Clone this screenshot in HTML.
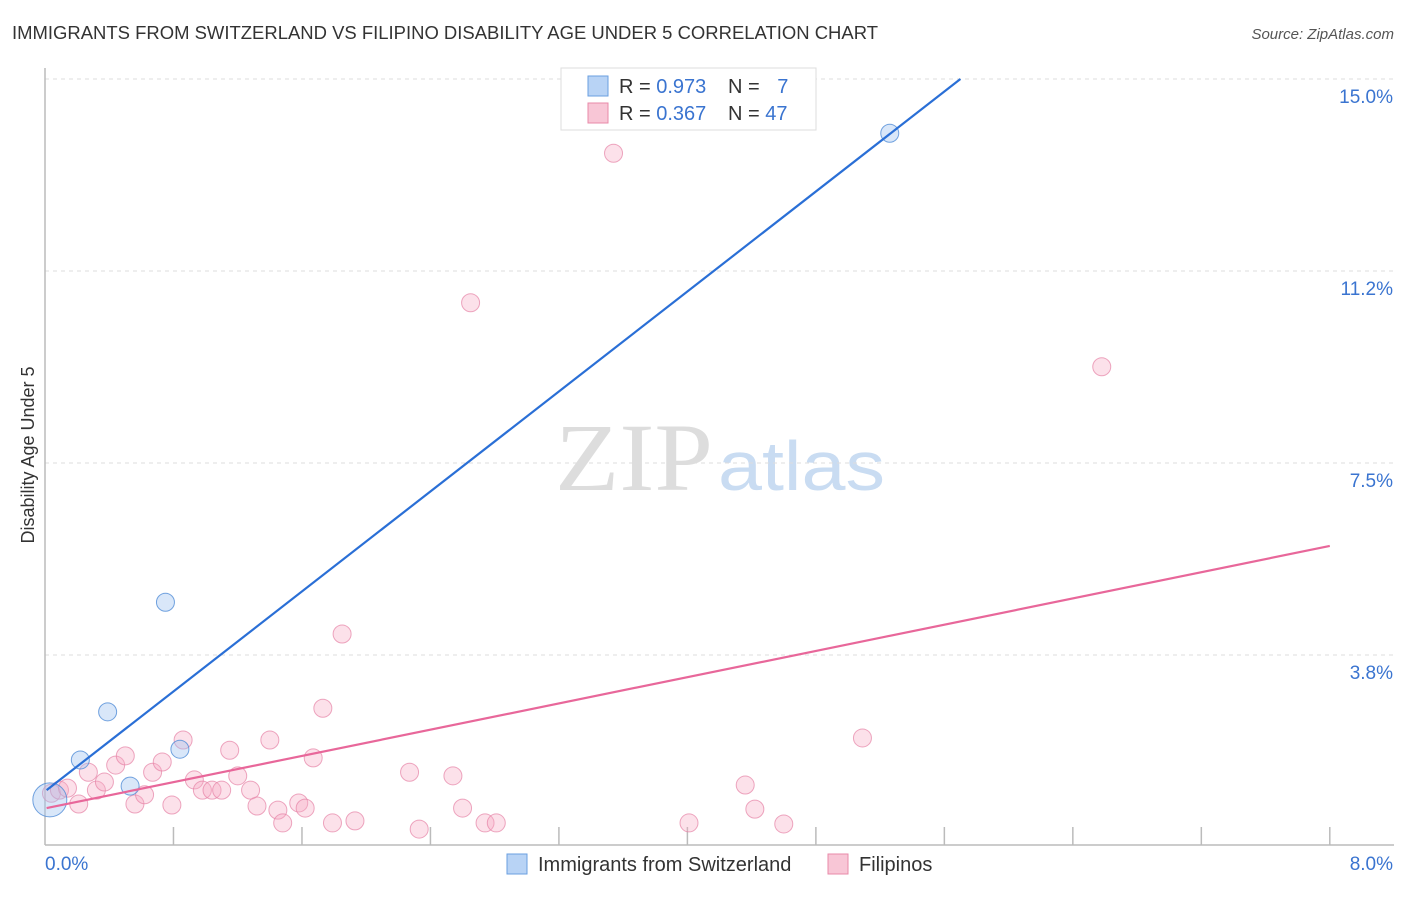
<!DOCTYPE html>
<html><head><meta charset="utf-8"><style>
body{margin:0;background:#fff;font-family:"Liberation Sans",sans-serif;}
svg text{font-family:"Liberation Sans",sans-serif;}
</style></head><body>
<svg width="1406" height="892" id="chart">
<text x="12" y="39" font-size="18" fill="#333" textLength="866" lengthAdjust="spacingAndGlyphs">IMMIGRANTS FROM SWITZERLAND VS FILIPINO DISABILITY AGE UNDER 5 CORRELATION CHART</text>
<text x="1394" y="39" font-size="15" fill="#555" font-style="italic" text-anchor="end">Source: ZipAtlas.com</text>
<text x="34" y="455" font-size="18" fill="#333" text-anchor="middle" transform="rotate(-90 34 455)">Disability Age Under 5</text>
<g>
<text x="555" y="490" font-size="96" fill="#ddd" textLength="158" lengthAdjust="spacingAndGlyphs" style="font-family:'Liberation Serif',serif">ZIP</text>
<text x="718" y="490" font-size="70" fill="#c9dcf2" textLength="167" lengthAdjust="spacingAndGlyphs">atlas</text>
</g>
<g id="grid"></g><g id="axes"></g><g id="marks"></g>
<g>
<rect x="561" y="68" width="255" height="62" fill="#fff" stroke="#ddd"/>
<rect x="588" y="76" width="20" height="20" fill="#b8d3f5" stroke="#6a9fe0"/>
<rect x="588" y="103" width="20" height="20" fill="#f8c6d6" stroke="#e88aa8"/>
<text x="619" y="93" font-size="20" fill="#333">R = <tspan fill="#3a74d0">0.973</tspan></text>
<text x="728" y="93" font-size="20" fill="#333">N = <tspan fill="#3a74d0" dx="12">7</tspan></text>
<text x="619" y="120" font-size="20" fill="#333">R = <tspan fill="#3a74d0">0.367</tspan></text>
<text x="728" y="120" font-size="20" fill="#333">N = <tspan fill="#3a74d0">47</tspan></text>
</g>
<g>
<rect x="507" y="854" width="20" height="20" fill="#b8d3f5" stroke="#6a9fe0"/>
<text x="538" y="871" font-size="20" fill="#333">Immigrants from Switzerland</text>
<rect x="828" y="854" width="20" height="20" fill="#f8c6d6" stroke="#e88aa8"/>
<text x="859" y="871" font-size="20" fill="#333">Filipinos</text>
</g>
</svg>
<script>
const yTicks=[3.75,7.5,11.25,15];
const yTickLabels=["3.8%","7.5%","11.2%","15.0%"];
const xTicks=[0,0.8,1.6,2.4,3.2,4.0,4.8,5.6,6.4,7.2,8.0];
const blueX=[0.22,0.39,0.53,0.75,0.84,5.26,0.03];
const blueY=[1.70,2.64,1.19,4.78,1.91,13.94,0.92];
const pinkX=[0.04,0.09,0.14,0.21,0.27,0.32,0.37,0.44,0.50,0.56,0.62,0.67,0.73,0.79,0.86,0.93,0.98,1.04,1.10,1.15,1.20,1.28,1.32,1.40,1.45,1.48,1.58,1.62,1.67,1.73,1.79,1.85,1.93,2.27,2.33,2.54,2.60,2.65,2.74,2.81,3.54,4.01,4.36,4.42,4.60,5.09,6.58];
const pinkY=[1.05,1.11,1.15,0.84,1.46,1.11,1.27,1.60,1.78,0.84,1.02,1.46,1.66,0.82,2.09,1.31,1.11,1.11,1.11,1.89,1.39,1.11,0.80,2.09,0.72,0.47,0.86,0.76,1.74,2.71,0.47,4.16,0.51,1.46,0.35,1.39,0.76,10.63,0.47,0.47,13.55,0.47,1.21,0.74,0.45,2.13,9.38];
const blueLine=[[0.01,1.11],[5.70,15.0]];
const pinkLine=[[0.01,0.76],[8.0,5.88]];
const sx=v=>45+v*160.6, sy=v=>847-v*51.2;
const NS="http://www.w3.org/2000/svg";
function mk(p,t,a){const e=document.createElementNS(NS,t);for(const k in a)e.setAttribute(k,a[k]);p.appendChild(e);return e;}
const grid=document.getElementById('grid'),axes=document.getElementById('axes'),marks=document.getElementById('marks');
yTicks.forEach((t,i)=>{
 const l=mk(grid,'line',{x1:45,x2:1394,y1:sy(t),y2:sy(t),stroke:'#ddd','stroke-dasharray':'4,4'});
 
 
 const tx=mk(axes,'text',{x:1393,y:sy(t)+24,'font-size':19,fill:'#3a74d0','text-anchor':'end'});
 tx.textContent=yTickLabels[i];
 
 
});
const ya=mk(axes,'line',{x1:45,x2:45,y1:68,y2:845,stroke:'#bbb','stroke-width':1.5});


const xa=mk(axes,'line',{x1:45,x2:1394,y1:845,y2:845,stroke:'#bbb','stroke-width':1.5});


xTicks.slice(1).forEach(t=>{
 const k=mk(axes,'line',{x1:sx(t),x2:sx(t),y1:827,y2:845,stroke:'#bbb','stroke-width':1.5});
 
 
});
const x0=mk(axes,'text',{x:45,y:870,'font-size':19,fill:'#3a74d0'});x0.textContent='0.0%';


const x1=mk(axes,'text',{x:1393,y:870,'font-size':19,fill:'#3a74d0','text-anchor':'end'});x1.textContent='8.0%';


pinkX.forEach((x,i)=>{
 const c=mk(marks,'circle',{cx:sx(x),cy:sy(pinkY[i]),r:9,fill:'rgba(245,170,195,0.35)',stroke:'rgba(230,130,165,0.7)','stroke-width':1});
 
 
});
blueX.forEach((x,i)=>{
 const c=mk(marks,'circle',{cx:sx(x),cy:sy(blueY[i]),r:i==6?17:9,fill:'rgba(160,195,240,0.4)',stroke:'rgba(80,140,215,0.8)','stroke-width':1});
 
 
});
const bl=mk(marks,'line',{x1:sx(blueLine[0][0]),y1:sy(blueLine[0][1]),x2:sx(blueLine[1][0]),y2:sy(blueLine[1][1]),stroke:'#2a6fd6','stroke-width':2.2});


const pl=mk(marks,'line',{x1:sx(pinkLine[0][0]),y1:sy(pinkLine[0][1]),x2:sx(pinkLine[1][0]),y2:sy(pinkLine[1][1]),stroke:'#e8679a','stroke-width':2.2});


</script>
</body></html>
